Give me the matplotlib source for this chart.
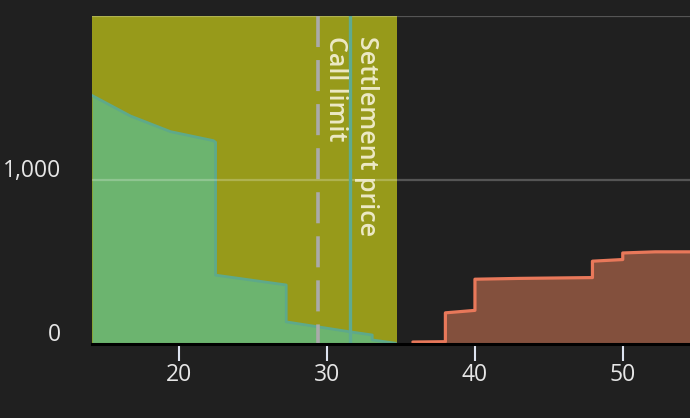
import matplotlib
matplotlib.use("Agg")
import matplotlib.pyplot as plt
from matplotlib.transforms import ScaledTranslation

# ---- data ----
demand_price = [14.1, 16.7, 19.4, 22.3, 22.45, 22.45, 27.23, 27.23, 31.5, 33.05, 33.05, 34.6]
demand_volume = [1515, 1390, 1295, 1240, 1230, 420, 360, 135, 75, 55, 25, 5]

supply_price = [35.8, 38.0, 38.0, 40.0, 40.0, 43.0, 47.95, 47.95, 50.0, 50.0, 52.2, 54.6]
supply_volume = [12, 14, 190, 205, 395, 400, 405, 505, 515, 555, 562, 562]

band_range = (14.1, 34.7)
call_limit = 29.4
settlement_price = 31.55
call_label = "Call limit"
settle_label = "Settlement price"

x_ticks = [20, 30, 40, 50]
y_ticks = [0, 1000]
y_tick_labels = ["0", "1,000"]
x_range = (14.09, 54.55)
y_range = (0, 2000)

# ---- style ----
plt.rcParams['font.family'] = ['Open Sans', 'DejaVu Sans']
BG = "#202020"
W, H = 690, 418
fig = plt.figure(figsize=(W / 100, H / 100), dpi=100, facecolor=BG)
ax = fig.add_axes([92 / W, 1 - 344 / H, (W - 92) / W, (344 - 16) / H])
ax.set_facecolor(BG)
ax.set_xlim(*x_range)
ax.set_ylim(*y_range)

# plot band
ax.axvspan(band_range[0], band_range[1], color="#979a1a", zorder=1, lw=0)

# demand area
ax.fill_between(demand_price, demand_volume, 0, color="#6cb46f", lw=0, zorder=2)
ax.plot(demand_price, demand_volume, color="#5ea98a", lw=2.0, zorder=3,
        solid_joinstyle="round")

# supply area
ax.fill_between(supply_price, supply_volume, 0, color="#83503d", lw=0, zorder=2)
ax.plot(supply_price, supply_volume, color="#e8785a", lw=2.3, zorder=3,
        solid_joinstyle="round", solid_capstyle="round")

# grid lines (drawn over the fills, semi-transparent)
for yv in [1000, 2000]:
    ax.axhline(yv, color="white", alpha=0.24, lw=1.6, zorder=4)

# plot lines (dash pattern starts at the top like the reference)
ax.plot([call_limit, call_limit], [y_range[1], y_range[0]], color="#aaaaaa",
        lw=2.6, dashes=(8.6, 3.6), zorder=5, solid_capstyle="butt",
        dash_capstyle="butt")
ax.plot([settlement_price, settlement_price], [y_range[1], y_range[0]],
        color="#5faa91", lw=2.4, zorder=5)

txt_kw = dict(xycoords=("data", "axes fraction"), textcoords="offset pixels",
              rotation=-90, ha="left", va="top", color="#ece9c6",
              fontsize=18, fontweight="semibold", zorder=6)
ax.annotate(call_label, xy=(call_limit, 1), xytext=(5, -20), **txt_kw)
ax.annotate(settle_label, xy=(settlement_price, 1), xytext=(4, -20), **txt_kw)

# axes styling
for s in ["top", "right", "left"]:
    ax.spines[s].set_visible(False)
ax.spines["bottom"].set_color("black")
ax.spines["bottom"].set_linewidth(2.2)
ax.spines["bottom"].set_zorder(7)

ax.set_xticks(x_ticks)
ax.set_xticklabels([str(t) for t in x_ticks])
ax.tick_params(axis="x", colors="#dde3f0", length=12.5, width=1.5, pad=1,
               labelsize=16.5, labelcolor="#e6e6e6")
ax.set_yticks(y_ticks)
ax.set_yticklabels(y_tick_labels)
ax.tick_params(axis="y", length=0, pad=22, labelsize=16.5, labelcolor="#e6e6e6")
for lab in ax.get_yticklabels():
    lab.set_transform(lab.get_transform() + ScaledTranslation(0, 12 / 100, fig.dpi_scale_trans))

fig.savefig("out.png", dpi=100, facecolor=BG)
